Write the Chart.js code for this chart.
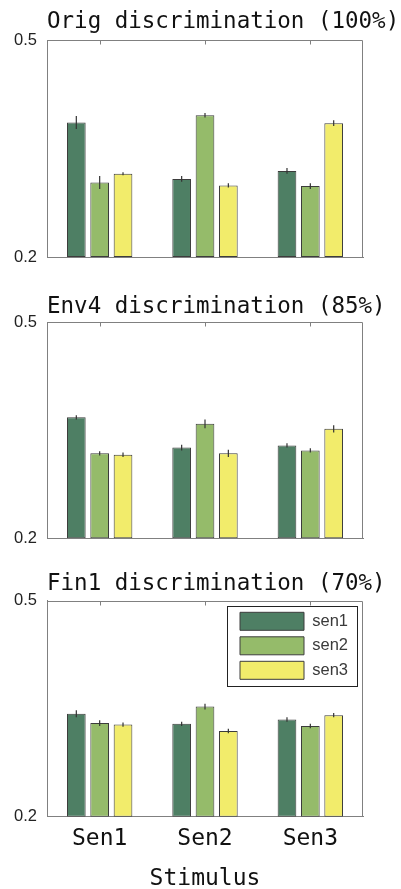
<!DOCTYPE html>
<html>
<head>
<meta charset="utf-8">
<script src="https://cdn.jsdelivr.net/npm/chart.js@4"></script>
<style>
  html, body { margin: 0; padding: 0; background: #fff; }
  body { width: 401px; height: 889px; position: relative; overflow: hidden; }
  canvas { position: absolute; left: 0; }
</style>
</head>
<body>
<canvas id="origChart" width="401" height="280" style="top:0px"></canvas>
<canvas id="env4Chart" width="401" height="280" style="top:280px"></canvas>
<canvas id="fin1Chart" width="401" height="329" style="top:560px"></canvas>
<script>
// Categories, series names and tick values
const stimuli = ['Sen1', 'Sen2', 'Sen3'];
const sensors = ['sen1', 'sen2', 'sen3'];
const yTicks = [0.2, 0.5];
const xAxisTitle = 'Stimulus';

// Orig discrimination (100%)
const origSen1 = [0.386, 0.308, 0.319];
const origSen2 = [0.303, 0.396, 0.298];
const origSen3 = [0.315, 0.299, 0.385];
const origSen1Err = [0.009, 0.004, 0.004];
const origSen2Err = [0.009, 0.003, 0.004];
const origSen3Err = [0.002, 0.003, 0.004];

// Env4 discrimination (85%)
const env4Sen1 = [0.368, 0.326, 0.329];
const env4Sen2 = [0.318, 0.359, 0.322];
const env4Sen3 = [0.316, 0.318, 0.352];
const env4Sen1Err = [0.003, 0.004, 0.003];
const env4Sen2Err = [0.003, 0.006, 0.003];
const env4Sen3Err = [0.003, 0.005, 0.005];

// Fin1 discrimination (70%)
const fin1Sen1 = [0.343, 0.329, 0.335];
const fin1Sen2 = [0.330, 0.353, 0.326];
const fin1Sen3 = [0.328, 0.319, 0.341];
const fin1Sen1Err = [0.005, 0.003, 0.003];
const fin1Sen2Err = [0.004, 0.004, 0.003];
const fin1Sen3Err = [0.003, 0.003, 0.003];

const seriesColors = ['#4e7f64', '#95bb6a', '#f2ec6b'];
const barEdge = '#3c3c3c';
const axisGray = '#808080';
const monoFont = 'DejaVu Sans Mono';

// Whisker for each bar: mean +/- error, placed through the value scale
const errorBars = {
  id: 'errorBars',
  afterDatasetsDraw(chart) {
    const { ctx } = chart;
    const y = chart.scales.y;
    ctx.save();
    ctx.strokeStyle = '#333';
    ctx.lineWidth = 1.2;
    chart.data.datasets.forEach((ds, i) => {
      chart.getDatasetMeta(i).data.forEach((bar, j) => {
        const v = ds.data[j], e = ds.errors[j];
        ctx.beginPath();
        ctx.moveTo(bar.x, y.getPixelForValue(v - e));
        ctx.lineTo(bar.x, y.getPixelForValue(v + e));
        ctx.stroke();
      });
    });
    ctx.restore();
  }
};

// Closed axes box with inward tick marks along the top edge, plus panel heading
const boxFrame = {
  id: 'boxFrame',
  afterDraw(chart, args, opts) {
    const { ctx, chartArea: a } = chart;
    const x = chart.scales.x;
    ctx.save();
    ctx.strokeStyle = axisGray;
    ctx.lineWidth = 1;
    const top = Math.round(a.top) + 0.5;
    const right = Math.round(a.right) - 0.5;
    ctx.beginPath();
    ctx.moveTo(a.left, top);
    ctx.lineTo(right, top);
    ctx.lineTo(right, a.bottom);
    x.ticks.forEach((t, i) => {
      const px = Math.round(x.getPixelForTick(i)) + 0.5;
      ctx.moveTo(px, top);
      ctx.lineTo(px, top + 4);
    });
    ctx.stroke();

    ctx.fillStyle = '#111';
    ctx.font = '22.5px "' + monoFont + '"';
    ctx.textBaseline = 'alphabetic';
    ctx.textAlign = 'left';
    ctx.fillText(opts.text, a.left, a.top - opts.gap);

    if (chart.legend && chart.options.plugins.legend.display) {
      const f = chart.$legendFrame;
      ctx.strokeStyle = '#222';
      ctx.strokeRect(Math.round(f.left) + 0.5, Math.round(f.top) + 0.5, f.width, f.height);
    }
    ctx.restore();
  }
};

// Tuck the legend into the upper-right corner of the plot area
const legendCorner = {
  id: 'legendCorner',
  afterLayout(chart) {
    const lg = chart.legend;
    if (!lg || !chart.options.plugins.legend.display) return;
    const a = chart.chartArea;
    const pad = chart.options.plugins.legend.labels.padding;
    const frame = { width: 130, height: 80, left: a.right - 6 - 130, top: a.top + 5 };
    chart.$legendFrame = frame;
    const newLeft = frame.left + 13 - pad;
    const newTop = frame.top + 6.6 - pad;
    lg.right += newLeft - lg.left;
    lg.left = newLeft;
    lg.top = newTop;
  }
};

function makePanel(id, heading, headingGap, padTop, xHeight, showX, means, errs) {
  const datasets = sensors.map((name, k) => ({
    label: name,
    data: means[k],
    errors: errs[k],
    backgroundColor: seriesColors[k],
    borderColor: barEdge,
    borderWidth: 1,
    borderSkipped: false,
    base: yTicks[0],
    categoryPercentage: 0.665,
    barPercentage: 0.8
  }));
  return new Chart(document.getElementById(id), {
    type: 'bar',
    data: { labels: stimuli, datasets },
    plugins: [errorBars, boxFrame, legendCorner],
    options: {
      responsive: false,
      animation: false,
      devicePixelRatio: 1,
      layout: { padding: { top: padTop, right: 38, bottom: 0, left: 0 } },
      plugins: {
        tooltip: { enabled: false },
        title: { display: false },
        boxFrame: { text: heading, gap: headingGap },
        legend: {
          display: showX,
          position: 'chartArea',
          fullSize: false,
          align: 'start',
          labels: {
            boxWidth: 64,
            boxHeight: 18,
            padding: 6.5,
            color: '#3a3a3a',
            font: { family: 'Liberation Sans', size: 16.5 }
          }
        }
      },
      scales: {
        x: {
          type: 'category',
          offset: true,
          grid: { display: false },
          border: { display: true, color: axisGray, width: 1 },
          ticks: {
            display: showX,
            padding: 1,
            maxRotation: 0,
            color: '#111',
            font: { family: monoFont, size: 23 }
          },
          title: {
            display: showX,
            text: xAxisTitle,
            padding: { top: 0, bottom: 0 },
            color: '#111',
            font: { family: monoFont, size: 23, lineHeight: 0.9 }
          },
          afterFit(s) { s.height = xHeight; s.paddingLeft = 0; s.paddingRight = 0; }
        },
        y: {
          min: yTicks[0],
          max: yTicks[yTicks.length - 1],
          grid: { display: false, drawTicks: false },
          border: { display: true, color: axisGray, width: 1 },
          afterBuildTicks(s) { s.ticks = yTicks.map(v => ({ value: v })); },
          ticks: {
            padding: 10,
            color: '#222',
            font: { family: 'Liberation Sans', size: 16.5 },
            callback: v => Number(v).toFixed(1)
          },
          afterFit(s) { s.width = 47; s.paddingTop = 0; s.paddingBottom = 0; }
        }
      }
    }
  });
}

makePanel('origChart', 'Orig discrimination (100%)', 11.7, 40, 23, false,
  [origSen1, origSen2, origSen3], [origSen1Err, origSen2Err, origSen3Err]);
makePanel('env4Chart', 'Env4 discrimination (85%)', 9, 42.3, 21.7, false,
  [env4Sen1, env4Sen2, env4Sen3], [env4Sen1Err, env4Sen2Err, env4Sen3Err]);
makePanel('fin1Chart', 'Fin1 discrimination (70%)', 10.7, 40.7, 72.3, true,
  [fin1Sen1, fin1Sen2, fin1Sen3], [fin1Sen1Err, fin1Sen2Err, fin1Sen3Err]);
</script>
</body>
</html>
